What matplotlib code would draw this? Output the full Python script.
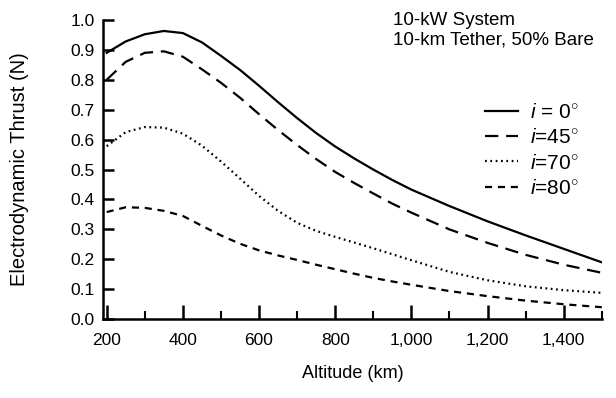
import matplotlib
matplotlib.use("Agg")
import matplotlib.pyplot as plt
from matplotlib.ticker import MultipleLocator, FuncFormatter

plt.rcParams['font.family'] = ['Liberation Sans', 'DejaVu Sans']
plt.rcParams['mathtext.fontset'] = 'custom'
plt.rcParams['mathtext.it'] = 'Liberation Sans:italic'
plt.rcParams['mathtext.rm'] = 'Liberation Sans'

# altitude (km) and thrust (N)
altitude = [200, 250, 300, 350, 400, 450, 500, 550, 600, 650, 700, 750, 800, 850, 900, 950,
            1000, 1100, 1200, 1300, 1400, 1500]
thrust_0 = [0.89, 0.928, 0.952, 0.963, 0.956, 0.925, 0.88, 0.833, 0.78, 0.725, 0.672, 0.622,
            0.577, 0.537, 0.50, 0.465, 0.433, 0.378, 0.327, 0.28, 0.235, 0.19]
thrust_45 = [0.80, 0.86, 0.89, 0.895, 0.877, 0.835, 0.79, 0.74, 0.685, 0.632, 0.582, 0.535,
             0.492, 0.455, 0.42, 0.386, 0.356, 0.30, 0.255, 0.215, 0.182, 0.155]
thrust_70 = [0.578, 0.625, 0.642, 0.64, 0.62, 0.58, 0.527, 0.47, 0.412, 0.362, 0.322, 0.295,
             0.275, 0.256, 0.237, 0.217, 0.197, 0.158, 0.13, 0.11, 0.097, 0.088]
thrust_80 = [0.358, 0.374, 0.372, 0.362, 0.345, 0.312, 0.28, 0.252, 0.23, 0.213, 0.198, 0.182,
             0.167, 0.152, 0.138, 0.126, 0.115, 0.094, 0.077, 0.062, 0.05, 0.04]

labels = [r'$i$ = 0$^{\circ}$', r'$i$=45$^{\circ}$', r'$i$=70$^{\circ}$', r'$i$=80$^{\circ}$']
xticks = [200, 400, 600, 800, 1000, 1200, 1400]

fig = plt.figure(figsize=(6.16, 3.98), dpi=100)
ax = fig.add_axes([0.167, 0.198, 0.81, 0.752])

ax.plot(altitude, thrust_0, color='black', lw=1.6, ls='-', label=labels[0])
ax.plot(altitude, thrust_45, color='black', lw=1.6, ls=(0, (6, 3.5)), label=labels[1])
ax.plot(altitude, thrust_70, color='black', lw=1.6, ls=(0, (0.8, 1.6)), label=labels[2])
ax.plot(altitude, thrust_80, color='black', lw=1.6, ls=(0, (3.2, 2.6)), label=labels[3])

ax.set_xlim(190, 1500)
ax.set_ylim(0, 1.0)
for s in ['top', 'right']:
    ax.spines[s].set_visible(False)
for s in ['left', 'bottom']:
    ax.spines[s].set_linewidth(1.8)

ax.set_xticks(xticks)
ax.xaxis.set_minor_locator(MultipleLocator(100))
ax.yaxis.set_major_locator(MultipleLocator(0.1))
ax.xaxis.set_major_formatter(FuncFormatter(lambda v, p: f'{int(v):,}'))
ax.yaxis.set_major_formatter(FuncFormatter(lambda v, p: f'{v:.1f}'))
ax.tick_params(axis='both', which='major', direction='in', length=8, width=1.8, labelsize=12.5)
ax.tick_params(axis='x', which='major', length=10, pad=10)
ax.tick_params(axis='y', which='major', pad=6)
ax.tick_params(axis='x', which='minor', direction='in', length=6, width=1.5)

ax.set_xlabel('Altitude (km)', fontsize=13, labelpad=12)
ax.set_ylabel('Electrodynamic Thrust (N)', fontsize=14.5, labelpad=30)

ax.text(0.581, 1.025, '10-kW System\n10-km Tether, 50% Bare', transform=ax.transAxes,
        fontsize=13.5, va='top', ha='left', linespacing=1.15)

ax.legend(loc='upper left', bbox_to_anchor=(0.766, 0.722), frameon=False, fontsize=15,
          handlelength=1.6, handletextpad=0.55, labelspacing=0.3, borderpad=0,
          borderaxespad=0)

fig.savefig('out.png', dpi=100)
